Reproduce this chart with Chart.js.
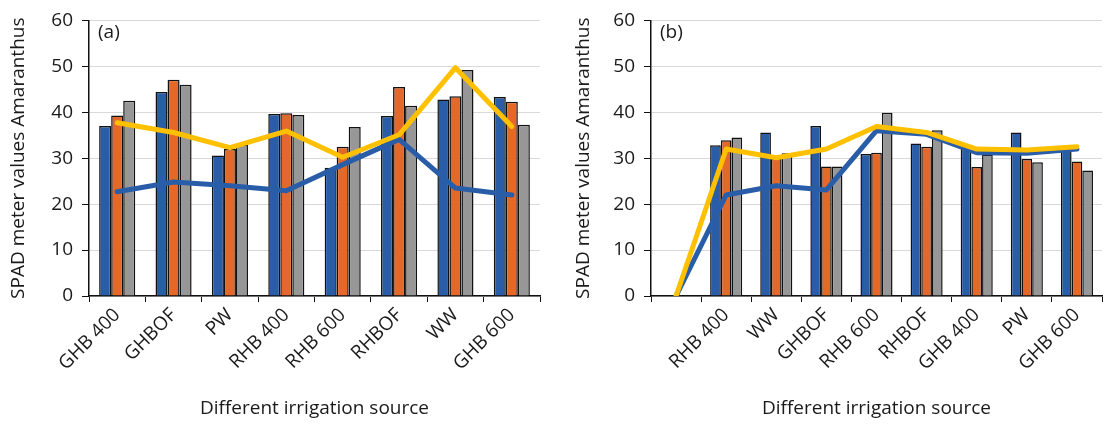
<!DOCTYPE html>
<html lang="en">
<head>
<meta charset="UTF-8">
<title>SPAD meter values Amaranthus</title>
<script src="https://cdn.jsdelivr.net/npm/chart.js"></script>
<style>
  body { margin: 0; background: #fff; }
  .panel { position: absolute; top: 0; height: 428px; }
  #wrapA { left: 0; width: 548px; }
  #wrapB { left: 565px; width: 541px; }
</style>
</head>
<body>
<div class="panel" id="wrapA"><canvas id="chartA"></canvas></div>
<div class="panel" id="wrapB"><canvas id="chartB"></canvas></div>

<script>
// panel (a)
const catsA = ['GHB 400', 'GHBOF', 'PW', 'RHB 400', 'RHB 600', 'RHBOF', 'WW', 'GHB 600'];
const blueA = [37.0, 44.4, 30.6, 39.6, 27.9, 39.2, 42.8, 43.3];
const orangeA = [39.3, 47.1, 32.0, 39.8, 32.5, 45.5, 43.5, 42.3];
const grayA = [42.5, 46.0, 33.0, 39.4, 36.8, 41.4, 49.2, 37.3];
const yellowLineA = [37.7, 35.6, 32.3, 35.9, 30.2, 35.1, 49.7, 36.9];
const blueLineA = [22.7, 24.8, 24.0, 22.9, 28.6, 34.1, 23.5, 22.0];

// panel (b) - first category is empty
const catsB = ['', 'RHB 400', 'WW', 'GHBOF', 'RHB 600', 'RHBOF', 'GHB 400', 'PW', 'GHB 600'];
const blueB = [null, 32.8, 35.6, 37.0, 30.9, 33.2, 32.0, 35.6, 32.6];
const orangeB = [null, 33.9, 30.0, 28.2, 31.2, 32.5, 28.1, 29.8, 29.3];
const grayB = [null, 34.5, 31.1, 28.2, 39.9, 36.1, 30.8, 29.1, 27.3];
const yellowLineB = [0, 32.0, 30.1, 32.0, 36.9, 35.6, 32.0, 31.8, 32.5];
const blueLineB = [0, 22.0, 24.0, 23.1, 36.0, 35.2, 31.2, 31.1, 32.0];

const yTicks = [0, 10, 20, 30, 40, 50, 60];

const FONT = "'Open Sans', 'Noto Sans', sans-serif";
const BLUE = '#2a5da8';
const ORANGE = '#e2692a';
const GRAY = '#979797';
const YELLOW = '#ffc000';

// draws "(a)" / "(b)" in the corner of the plot
const panelTag = {
  id: 'panelTag',
  afterDraw(chart, args, opts) {
    const ctx = chart.ctx;
    const area = chart.chartArea;
    ctx.save();
    ctx.font = '19px ' + FONT;
    ctx.fillStyle = '#1a1a1a';
    ctx.textBaseline = 'middle';
    ctx.fillText(opts.text, area.left + 9, area.top + 12);
    ctx.restore();
  }
};

function barSet(label, data, color) {
  return {
    type: 'bar', label: label, data: data, order: 2,
    backgroundColor: color, borderColor: '#111', borderWidth: 1.5,
    barPercentage: 1.0, categoryPercentage: 0.64
  };
}

function lineSet(label, data, color) {
  return {
    type: 'line', label: label, data: data, order: 0,
    borderColor: color, backgroundColor: color, borderWidth: 5,
    pointRadius: 0, tension: 0, fill: false,
    borderCapStyle: 'round', borderJoinStyle: 'round'
  };
}

function makeChart(id, cats, blue, orange, gray, yl, bl, tag, yWidth, padRight) {
  return new Chart(document.getElementById(id), {
    type: 'bar',
    data: {
      labels: cats,
      datasets: [
        lineSet('Line 2', yl, YELLOW),
        lineSet('Line 1', bl, BLUE),
        barSet('Series 1', blue, BLUE),
        barSet('Series 2', orange, ORANGE),
        barSet('Series 3', gray, GRAY)
      ]
    },
    options: {
      responsive: true,
      maintainAspectRatio: false,
      animation: false,
      layout: { padding: { top: 20, right: padRight, bottom: 4, left: 0 } },
      plugins: {
        legend: { display: false },
        tooltip: { enabled: false },
        panelTag: { text: tag }
      },
      scales: {
        x: {
          grid: {
            display: true, drawOnChartArea: false, drawTicks: true,
            tickLength: 6, tickColor: '#111', offset: true
          },
          border: { color: '#111', width: 1.5 },
          ticks: {
            autoSkip: false, minRotation: 45, maxRotation: 45,
            color: '#1a1a1a', font: { family: FONT, size: 19 }, padding: 2
          },
          title: {
            display: true, text: 'Different irrigation source',
            color: '#1a1a1a', font: { family: FONT, size: 19 },
            padding: { top: 4, bottom: 4 }
          },
          afterFit(s) { s.height = 128; }
        },
        y: {
          min: 0, max: 60,
          afterBuildTicks(s) { s.ticks = yTicks.map(v => ({ value: v })); },
          grid: { color: '#d9d9d9', lineWidth: 1, tickLength: 7, tickColor: '#111' },
          border: { color: '#111', width: 1.5 },
          ticks: { color: '#1a1a1a', font: { family: FONT, size: 19 }, padding: 9 },
          title: {
            display: true, text: 'SPAD meter values Amaranthus',
            color: '#1a1a1a', font: { family: FONT, size: 19 },
            padding: { top: 7, bottom: 4 }
          },
          afterFit(s) { s.width = yWidth; }
        }
      }
    },
    plugins: [panelTag]
  });
}

makeChart('chartA', catsA, blueA, orangeA, grayA, yellowLineA, blueLineA, '(a)', 89, 8);
makeChart('chartB', catsB, blueB, orangeB, grayB, yellowLineB, blueLineB, '(b)', 86, 4);
</script>
</body>
</html>
